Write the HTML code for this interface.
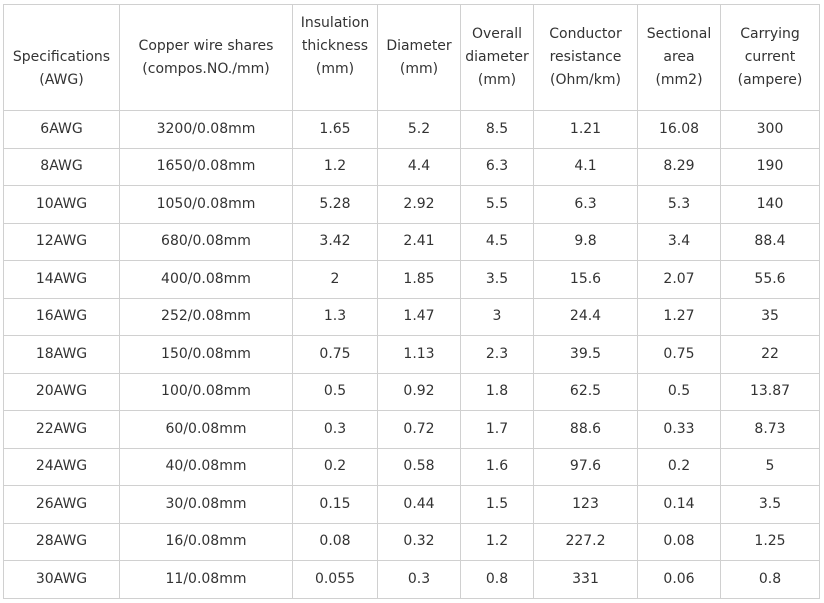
<!DOCTYPE html>
<html><head><style>
html,body{margin:0;padding:0;background:#fff;width:824px;height:603px;overflow:hidden}
table{position:absolute;left:3px;top:4px;border-collapse:collapse;table-layout:fixed;font-family:"DejaVu Sans","Liberation Sans",sans-serif;font-size:14px;color:#333}
td{border:1px solid #d0d0d0;text-align:center;vertical-align:middle;padding:0;height:36.5px;line-height:23px}
tr.h td{height:105px;line-height:23px}
td.up{padding-bottom:22px;height:83px!important}
td.dn{padding-top:22px;height:83px!important}
</style></head><body>
<table>
<colgroup><col style="width:116px"><col style="width:173px"><col style="width:85px"><col style="width:83px"><col style="width:73px"><col style="width:104px"><col style="width:83px"><col style="width:99px"></colgroup>
<tr class="h"><td class="dn">Specifications<br>(AWG)</td><td>Copper wire shares<br>(compos.NO./mm)</td><td class="up">Insulation<br>thickness<br>(mm)</td><td>Diameter<br>(mm)</td><td>Overall<br>diameter<br>(mm)</td><td>Conductor<br>resistance<br>(Ohm/km)</td><td>Sectional<br>area<br>(mm2)</td><td>Carrying<br>current<br>(ampere)</td></tr>
<tr><td>6AWG</td><td>3200/0.08mm</td><td>1.65</td><td>5.2</td><td>8.5</td><td>1.21</td><td>16.08</td><td>300</td></tr>
<tr><td>8AWG</td><td>1650/0.08mm</td><td>1.2</td><td>4.4</td><td>6.3</td><td>4.1</td><td>8.29</td><td>190</td></tr>
<tr><td>10AWG</td><td>1050/0.08mm</td><td>5.28</td><td>2.92</td><td>5.5</td><td>6.3</td><td>5.3</td><td>140</td></tr>
<tr><td>12AWG</td><td>680/0.08mm</td><td>3.42</td><td>2.41</td><td>4.5</td><td>9.8</td><td>3.4</td><td>88.4</td></tr>
<tr><td>14AWG</td><td>400/0.08mm</td><td>2</td><td>1.85</td><td>3.5</td><td>15.6</td><td>2.07</td><td>55.6</td></tr>
<tr><td>16AWG</td><td>252/0.08mm</td><td>1.3</td><td>1.47</td><td>3</td><td>24.4</td><td>1.27</td><td>35</td></tr>
<tr><td>18AWG</td><td>150/0.08mm</td><td>0.75</td><td>1.13</td><td>2.3</td><td>39.5</td><td>0.75</td><td>22</td></tr>
<tr><td>20AWG</td><td>100/0.08mm</td><td>0.5</td><td>0.92</td><td>1.8</td><td>62.5</td><td>0.5</td><td>13.87</td></tr>
<tr><td>22AWG</td><td>60/0.08mm</td><td>0.3</td><td>0.72</td><td>1.7</td><td>88.6</td><td>0.33</td><td>8.73</td></tr>
<tr><td>24AWG</td><td>40/0.08mm</td><td>0.2</td><td>0.58</td><td>1.6</td><td>97.6</td><td>0.2</td><td>5</td></tr>
<tr><td>26AWG</td><td>30/0.08mm</td><td>0.15</td><td>0.44</td><td>1.5</td><td>123</td><td>0.14</td><td>3.5</td></tr>
<tr><td>28AWG</td><td>16/0.08mm</td><td>0.08</td><td>0.32</td><td>1.2</td><td>227.2</td><td>0.08</td><td>1.25</td></tr>
<tr><td>30AWG</td><td>11/0.08mm</td><td>0.055</td><td>0.3</td><td>0.8</td><td>331</td><td>0.06</td><td>0.8</td></tr>
</table>
</body></html>
